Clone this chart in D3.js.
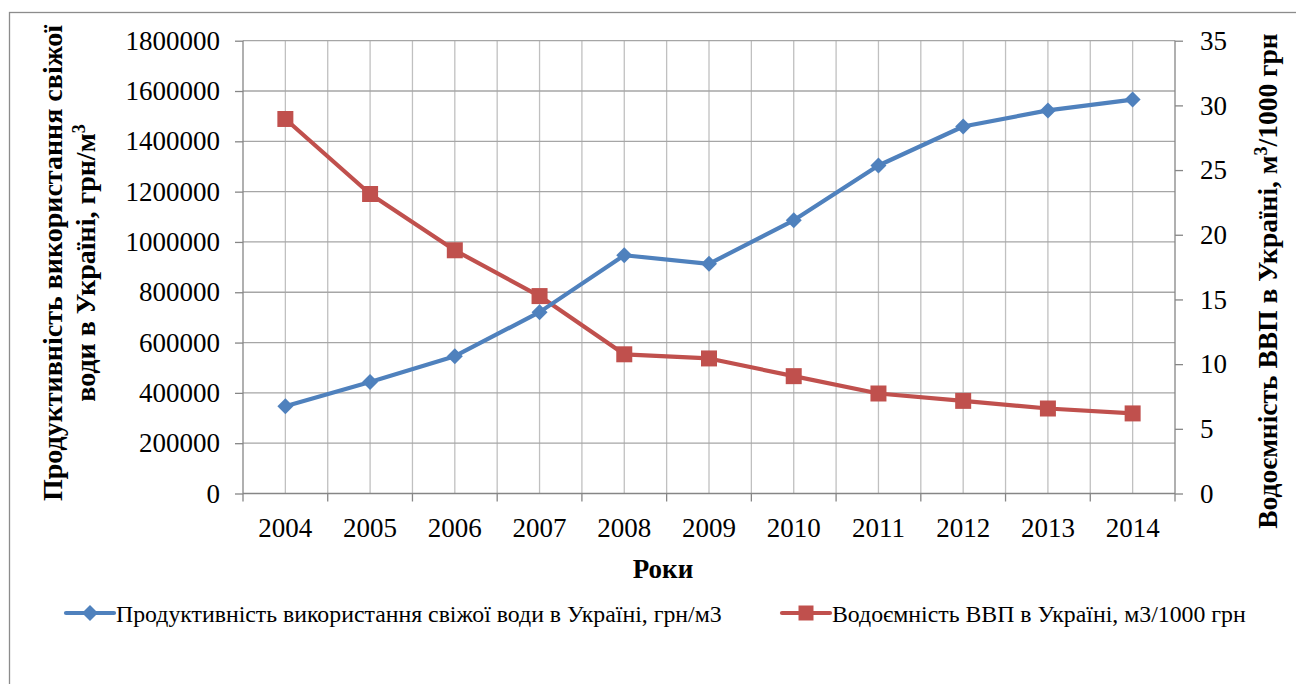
<!DOCTYPE html>
<html>
<head>
<meta charset="utf-8">
<script src="https://cdnjs.cloudflare.com/ajax/libs/d3/7.8.5/d3.min.js"></script>
<style>
  body { margin: 0; background: #fff; }
  svg text { font-family: "Liberation Serif", "Times New Roman", serif; }
</style>
</head>
<body>
<svg width="1296" height="684"></svg>
<script>
// data
const years = ["2004", "2005", "2006", "2007", "2008", "2009", "2010", "2011", "2012", "2013", "2014"];
const productivity = [347000, 443000, 546000, 721000, 947000, 913000, 1086000, 1304000, 1459000, 1523000, 1566000];
const waterIntensity = [28.95, 23.15, 18.8, 15.26, 10.76, 10.44, 9.07, 7.73, 7.16, 6.57, 6.19];
const leftTicks = [0, 200000, 400000, 600000, 800000, 1000000, 1200000, 1400000, 1600000, 1800000];
const rightTicks = [0, 5, 10, 15, 20, 25, 30, 35];

const seriesNames = [
    "Продуктивність використання свіжої води в Україні, грн/м3",
    "Водоємність ВВП в Україні, м3/1000 грн"
];

const BLUE = "#4f81bd", RED = "#c0504d";
const FONT = "'Liberation Serif', 'Times New Roman', serif";

let svg = d3.select("svg");
let plot = { left: 243, right: 1175, top: 40.7, bottom: 493.5 };

let x = d3.scaleBand().domain(years).range([plot.left, plot.right]);
let cx = d => x(d) + x.bandwidth() / 2;
let yL = d3.scaleLinear().domain([0, 1800000]).range([plot.bottom, plot.top]);
let yR = d3.scaleLinear().domain([0, 35]).range([plot.bottom, plot.top]);

// outer frame
svg.append("rect")
    .attr("x", 9.5).attr("y", 12.5)
    .attr("width", 1400).attr("height", 800)
    .attr("fill", "none").attr("stroke", "#8c8c8c").attr("stroke-width", 1.3);

// vertical grid: category boundaries and centres
let vLines = [];
years.forEach(d => { vLines.push(x(d)); vLines.push(cx(d)); });
vLines.push(plot.right);
svg.append("g").selectAll("line").data(vLines.slice(1, -1)).join("line")
    .attr("x1", d => d).attr("x2", d => d)
    .attr("y1", plot.top).attr("y2", plot.bottom)
    .attr("stroke", "#c0c0c0").attr("stroke-width", 1.3);

// horizontal grid
svg.append("g").selectAll("line").data(leftTicks.slice(1)).join("line")
    .attr("x1", plot.left).attr("x2", plot.right)
    .attr("y1", d => yL(d)).attr("y2", d => yL(d))
    .attr("stroke", "#a6a6a6").attr("stroke-width", 1.3);

// left axis
let leftAxis = svg.append("g")
    .attr("transform", "translate(" + plot.left + ",0)")
    .call(d3.axisLeft(yL).tickValues(leftTicks).tickFormat(d3.format("d")).tickSize(8).tickPadding(15));

// right axis
let rightAxis = svg.append("g")
    .attr("transform", "translate(" + plot.right + ",0)")
    .call(d3.axisRight(yR).tickValues(rightTicks).tickSize(8).tickPadding(17));

// bottom axis: labels at centres, tick marks at boundaries
let bottomAxis = svg.append("g")
    .attr("transform", "translate(0," + plot.bottom + ")")
    .call(d3.axisBottom(x).tickSize(0).tickPadding(0));
bottomAxis.selectAll("text").attr("y", 43).attr("dy", 0);
svg.append("g").selectAll("line").data(years.map(d => x(d)).concat([plot.right])).join("line")
    .attr("x1", d => d).attr("x2", d => d)
    .attr("y1", plot.bottom).attr("y2", plot.bottom + 8)
    .attr("stroke", "#868686").attr("stroke-width", 1.3);

[leftAxis, rightAxis, bottomAxis].forEach(g => {
    g.attr("font-family", FONT);
    g.selectAll(".domain").attr("stroke", "#868686").attr("stroke-width", 1.3);
    g.selectAll(".tick line").attr("stroke", "#868686").attr("stroke-width", 1.3);
    g.selectAll("text").attr("font-size", 27).attr("fill", "#000");
});
leftAxis.select(".domain").attr("d", "M0," + plot.top + "V" + plot.bottom);
rightAxis.select(".domain").attr("d", "M0," + plot.top + "V" + plot.bottom);
bottomAxis.select(".domain").attr("d", "M" + plot.left + ",0H" + plot.right);

// lines
let lineL = d3.line().x((d, i) => cx(years[i])).y(d => yL(d));
let lineR = d3.line().x((d, i) => cx(years[i])).y(d => yR(d));

svg.append("path").datum(waterIntensity).attr("d", lineR)
    .attr("fill", "none").attr("stroke", RED).attr("stroke-width", 4.2).attr("stroke-linejoin", "round");
svg.append("path").datum(productivity).attr("d", lineL)
    .attr("fill", "none").attr("stroke", BLUE).attr("stroke-width", 4.2).attr("stroke-linejoin", "round");

let squareSym = d3.symbol().type(d3.symbolSquare).size(256);
let diamondSym = d3.symbol().type(d3.symbolSquare).size(128);

svg.append("g").selectAll("path").data(waterIntensity).join("path")
    .attr("d", squareSym)
    .attr("transform", (d, i) => "translate(" + cx(years[i]) + "," + yR(d) + ")")
    .attr("fill", RED);
svg.append("g").selectAll("path").data(productivity).join("path")
    .attr("d", diamondSym)
    .attr("transform", (d, i) => "translate(" + cx(years[i]) + "," + yL(d) + ") rotate(45)")
    .attr("fill", BLUE);

// axis titles
svg.append("text")
    .attr("x", 663).attr("y", 578)
    .attr("text-anchor", "middle")
    .attr("font-size", 27).attr("font-weight", "bold")
    .text("Роки");

let lt = svg.append("text")
    .attr("transform", "translate(62,263) rotate(-90)")
    .attr("text-anchor", "middle")
    .attr("font-size", 28).attr("font-weight", "bold");
lt.append("tspan").attr("x", 0).attr("y", 0).text("Продуктивність використання свіжої");
let lt2 = lt.append("tspan").attr("x", 0).attr("y", 33);
lt2.append("tspan").text("води в Україні, грн/м");
lt2.append("tspan").attr("font-size", 18).attr("baseline-shift", "super").text("3");

let rt = svg.append("text")
    .attr("transform", "translate(1277,281) rotate(-90)")
    .attr("text-anchor", "middle")
    .attr("font-size", 27.5).attr("font-weight", "bold");
rt.append("tspan").text("Водоємність ВВП в Україні, м");
rt.append("tspan").attr("font-size", 18).attr("baseline-shift", "super").text("3");
rt.append("tspan").text("/1000 грн");

// legend
let legend = [
    { name: seriesNames[0], color: BLUE, sym: diamondSym, rot: 45, x0: 66, x1: 114 },
    { name: seriesNames[1], color: RED, sym: d3.symbol().type(d3.symbolSquare).size(225), rot: 0, x0: 782, x1: 830 }
];
let lg = svg.append("g").selectAll("g").data(legend).join("g");
lg.append("line")
    .attr("x1", d => d.x0).attr("x2", d => d.x1)
    .attr("y1", 613).attr("y2", 613)
    .attr("stroke", d => d.color).attr("stroke-width", 4.2).attr("stroke-linecap", "round");
lg.append("path")
    .attr("d", d => d.sym())
    .attr("transform", d => "translate(" + (d.x0 + d.x1) / 2 + ",613) rotate(" + d.rot + ")")
    .attr("fill", d => d.color);
lg.append("text")
    .attr("x", d => d.x1 + 2).attr("y", 622)
    .attr("font-size", 23.8)
    .text(d => d.name);
</script>
</body>
</html>
